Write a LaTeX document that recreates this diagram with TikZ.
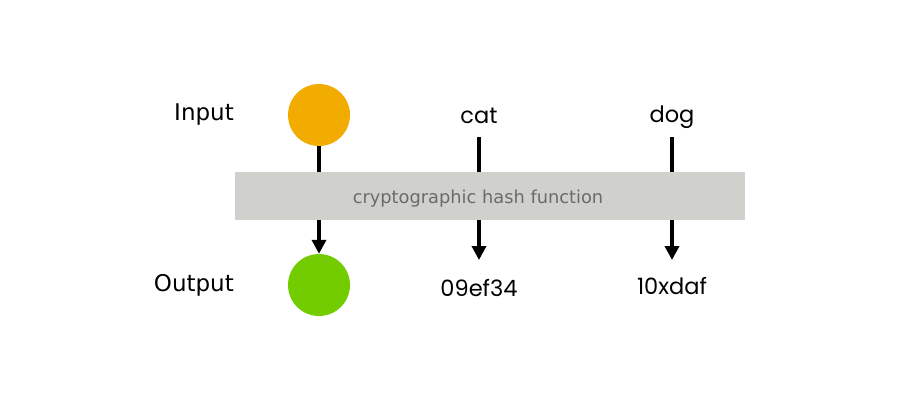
\documentclass[tikz,border=0pt]{standalone}
\usepackage{fontspec}
\setmainfont{DejaVu Sans}
\newfontfamily\pop{Poppins}
\usetikzlibrary{arrows.meta}
\definecolor{inorange}{HTML}{F2AC00}
\definecolor{outgreen}{HTML}{72CC00}
\definecolor{boxgray}{HTML}{D0D1CC}
\definecolor{txtgray}{HTML}{6B6B6B}
\tikzset{
  lbl/.style={font=\fontsize{23}{26}\selectfont, text=black, inner sep=0pt},
  val/.style={font=\pop\fontsize{22.5}{26}\selectfont, text=black, inner sep=0pt},
  dot/.style={circle, minimum size=62pt, inner sep=0pt},
  conn/.style={line width=4pt, draw=black},
  arr/.style={line width=4pt, draw=black, -{Triangle[width=14pt,length=14pt]}},
}
\begin{document}
\begin{tikzpicture}[x=1pt,y=-1pt]
\useasboundingbox (0,0) rectangle (900,400);
\node[dot, fill=inorange] (in) at (319,115) {};
\node[dot, fill=outgreen] (out) at (319,285) {};
\node[fill=boxgray, minimum width=510pt, minimum height=48pt, inner sep=0pt] (hash) at (490,196) {};
\node[text=txtgray, font=\fontsize{17.8}{20}\selectfont, inner sep=0pt] (hashtxt) at (478,199) {cryptographic hash function};
\node[lbl, anchor=east] (input) at (234,115) {Input};
\node[lbl, anchor=east] (output) at (234,285) {Output};
\node[val] (cat) at (479,116) {cat};
\node[val] (dog) at (672,117) {dog};
\node[val] (h1) at (479,288) {09ef34};
\node[val] (h2) at (672,286) {10xdaf};
\coordinate (t1) at (319,172); \coordinate (b1) at (319,220);
\coordinate (t2) at (479,172); \coordinate (b2) at (479,220);
\coordinate (t3) at (672,172); \coordinate (b3) at (672,220);
\coordinate (s2) at (479,137); \coordinate (e2) at (479,260);
\coordinate (s3) at (672,137); \coordinate (e3) at (672,260);
\draw[conn] (in.south) -- (t1);
\draw[conn] (s2) -- (t2);
\draw[conn] (s3) -- (t3);
\draw[arr] (b1) -- (out.north);
\draw[arr] (b2) -- (e2);
\draw[arr] (b3) -- (e3);
\end{tikzpicture}
\end{document}
